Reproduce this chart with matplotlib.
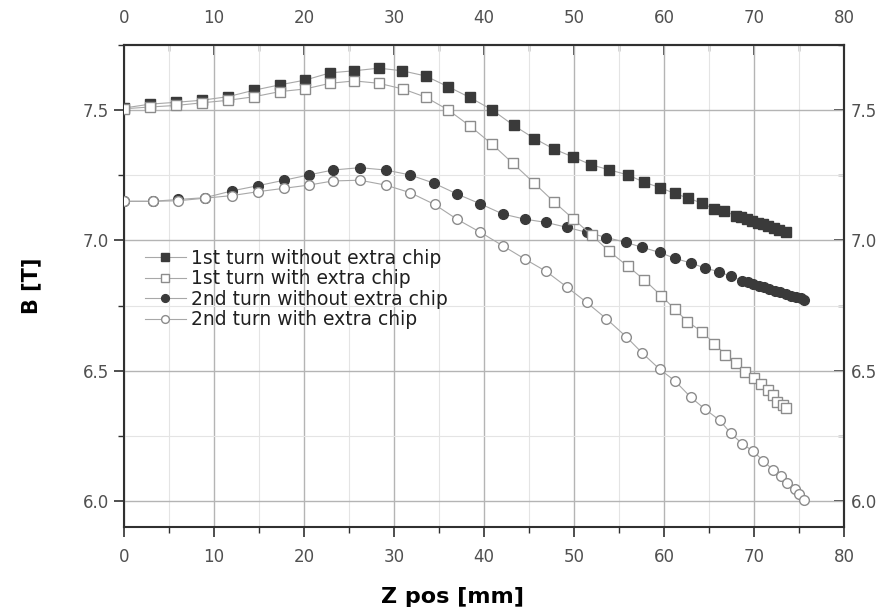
import numpy as np
import matplotlib.pyplot as plt
from matplotlib.ticker import MultipleLocator

# data
sq_filled_x = [0, 2.9, 5.8, 8.7, 11.6, 14.4, 17.3, 20.1, 22.9, 25.6,
               28.3, 30.9, 33.5, 36.0, 38.4, 40.9, 43.3, 45.6, 47.8, 49.9,
               51.9, 53.9, 56.0, 57.8, 59.6, 61.2, 62.7, 64.2, 65.5, 66.7,
               68.0, 68.6, 69.2, 69.8, 70.4, 71.0, 71.6, 72.2, 72.8, 73.5]
sq_filled_B = [7.508, 7.523, 7.530, 7.538, 7.552, 7.576, 7.597, 7.615, 7.643, 7.651,
               7.661, 7.651, 7.631, 7.590, 7.549, 7.501, 7.441, 7.391, 7.350, 7.320,
               7.290, 7.271, 7.251, 7.223, 7.202, 7.180, 7.162, 7.143, 7.122, 7.111,
               7.095, 7.088, 7.081, 7.075, 7.068, 7.062, 7.055, 7.048, 7.041, 7.034]

sq_open_x = [0, 2.9, 5.8, 8.7, 11.6, 14.4, 17.3, 20.1, 22.9, 25.6,
             28.3, 31.0, 33.5, 36.0, 38.4, 40.9, 43.2, 45.5, 47.8, 49.9,
             52.0, 53.9, 56.0, 57.8, 59.7, 61.2, 62.6, 64.2, 65.6, 66.8,
             68.0, 69.0, 70.0, 70.8, 71.5, 72.1, 72.6, 73.2, 73.5]
sq_open_B = [7.505, 7.512, 7.518, 7.528, 7.538, 7.551, 7.571, 7.581, 7.603, 7.612,
             7.603, 7.581, 7.550, 7.501, 7.440, 7.369, 7.296, 7.222, 7.147, 7.083,
             7.019, 6.958, 6.900, 6.849, 6.787, 6.736, 6.688, 6.650, 6.603, 6.562,
             6.531, 6.493, 6.473, 6.448, 6.426, 6.405, 6.380, 6.367, 6.358]

ci_filled_x = [0, 3.2, 6.0, 9.0, 12.0, 14.9, 17.8, 20.5, 23.2, 26.2,
               29.1, 31.8, 34.4, 37.0, 39.6, 42.1, 44.6, 46.9, 49.2, 51.4,
               53.6, 55.8, 57.6, 59.5, 61.2, 63.0, 64.6, 66.1, 67.4, 68.7,
               69.3, 69.9, 70.5, 71.1, 71.7, 72.3, 72.9, 73.5, 74.1, 74.7,
               75.2, 75.6]
ci_filled_B = [7.150, 7.150, 7.157, 7.164, 7.190, 7.210, 7.231, 7.251, 7.270, 7.279,
               7.270, 7.251, 7.220, 7.178, 7.140, 7.101, 7.081, 7.069, 7.050, 7.031,
               7.011, 6.992, 6.973, 6.954, 6.931, 6.913, 6.893, 6.880, 6.862, 6.845,
               6.839, 6.833, 6.826, 6.820, 6.813, 6.807, 6.800, 6.794, 6.788, 6.781,
               6.777, 6.772]

ci_open_x = [0, 3.2, 6.0, 9.0, 12.0, 14.9, 17.8, 20.5, 23.2, 26.2,
             29.1, 31.8, 34.5, 37.0, 39.6, 42.1, 44.5, 46.9, 49.2, 51.4,
             53.6, 55.8, 57.6, 59.5, 61.2, 63.0, 64.6, 66.2, 67.4, 68.7,
             69.9, 71.0, 72.1, 73.0, 73.7, 74.5, 75.0, 75.6]
ci_open_B = [7.150, 7.150, 7.152, 7.162, 7.172, 7.187, 7.200, 7.212, 7.228, 7.231,
             7.212, 7.183, 7.138, 7.081, 7.031, 6.979, 6.929, 6.881, 6.821, 6.762,
             6.699, 6.630, 6.567, 6.506, 6.461, 6.397, 6.351, 6.309, 6.260, 6.219,
             6.191, 6.155, 6.119, 6.097, 6.068, 6.046, 6.027, 6.004]

labels = ['1st turn without extra chip', '1st turn with extra chip',
          '2nd turn without extra chip', '2nd turn with extra chip']

plt.rcParams['font.family'] = 'DejaVu Sans'

fig = plt.figure(figsize=(8.84, 6.11), dpi=100)
ax = fig.add_axes([0.1403, 0.1375, 0.8145, 0.7889])

dark = '#3a3a3a'
edge = '#8c8c8c'
line = '#a8a8a8'

ax.plot(sq_filled_x, sq_filled_B, '-s', color=line, lw=0.8, ms=6.5,
        mfc=dark, mec=dark, label=labels[0], zorder=3)
ax.plot(sq_open_x, sq_open_B, '-s', color=line, lw=0.8, ms=6.5,
        mfc='white', mec=edge, mew=1.0, label=labels[1], zorder=4)
ax.plot(ci_filled_x, ci_filled_B, '-o', color=line, lw=0.8, ms=7,
        mfc=dark, mec=dark, label=labels[2], zorder=3)
ax.plot(ci_open_x, ci_open_B, '-o', color=line, lw=0.8, ms=7,
        mfc='white', mec=edge, mew=1.0, label=labels[3], zorder=4)

ax.set_xlim(0, 80)
ax.set_ylim(5.9, 7.75)
ax.xaxis.set_major_locator(MultipleLocator(10))
ax.xaxis.set_minor_locator(MultipleLocator(5))
ax.yaxis.set_major_locator(MultipleLocator(0.5))
ax.yaxis.set_minor_locator(MultipleLocator(0.25))
ax.yaxis.set_major_formatter(plt.FormatStrFormatter('%.1f'))

ax.grid(which='major', color='#b4b4b4', lw=1.0, zorder=0)
ax.grid(which='minor', color='#e4e4e4', lw=0.8, zorder=0)
ax.set_axisbelow(True)

for s in ax.spines.values():
    s.set_color('#303030')
    s.set_linewidth(1.5)

ax.tick_params(which='major', direction='out', length=7, width=1.2,
               color='#303030', labelsize=12, labelcolor='#505050')
ax.tick_params(axis='x', which='major', pad=8)
ax.tick_params(axis='y', which='major', pad=4)
ax.tick_params(which='minor', direction='out', length=4, width=1.0, color='#303030')

secx = ax.secondary_xaxis('top')
secx.xaxis.set_major_locator(MultipleLocator(10))
secx.xaxis.set_minor_locator(MultipleLocator(5))
secx.tick_params(which='major', direction='in', length=7, width=1.2,
                 color='#303030', labelsize=12, labelcolor='#505050', pad=13)
secx.tick_params(which='minor', direction='in', length=4, width=1.0, color='#303030')

secy = ax.secondary_yaxis('right')
secy.yaxis.set_major_locator(MultipleLocator(0.5))
secy.yaxis.set_minor_locator(MultipleLocator(0.25))
secy.yaxis.set_major_formatter(plt.FormatStrFormatter('%.1f'))
secy.tick_params(which='major', direction='in', length=7, width=1.2,
                 color='#303030', labelsize=12, labelcolor='#505050', pad=5)
secy.tick_params(which='minor', direction='in', length=4, width=1.0, color='#303030')
for sa in (secx, secy):
    for s in sa.spines.values():
        s.set_color('#303030')
        s.set_linewidth(1.5)

ax.set_xlabel('Z pos [mm]', fontsize=16, fontweight='bold')
ax.xaxis.set_label_coords(0.456, -0.124)
ax.set_ylabel('B [T]', fontsize=15, fontweight='bold')
ax.yaxis.set_label_coords(-0.115, 0.5)

ax.legend(loc='upper left', bbox_to_anchor=(0.005, 0.612), frameon=False,
          fontsize=13.5, labelspacing=0.08, handlelength=2.2, handletextpad=0.3,
          markerscale=0.8, labelcolor='#202020')

fig.savefig('out.png', dpi=100)
